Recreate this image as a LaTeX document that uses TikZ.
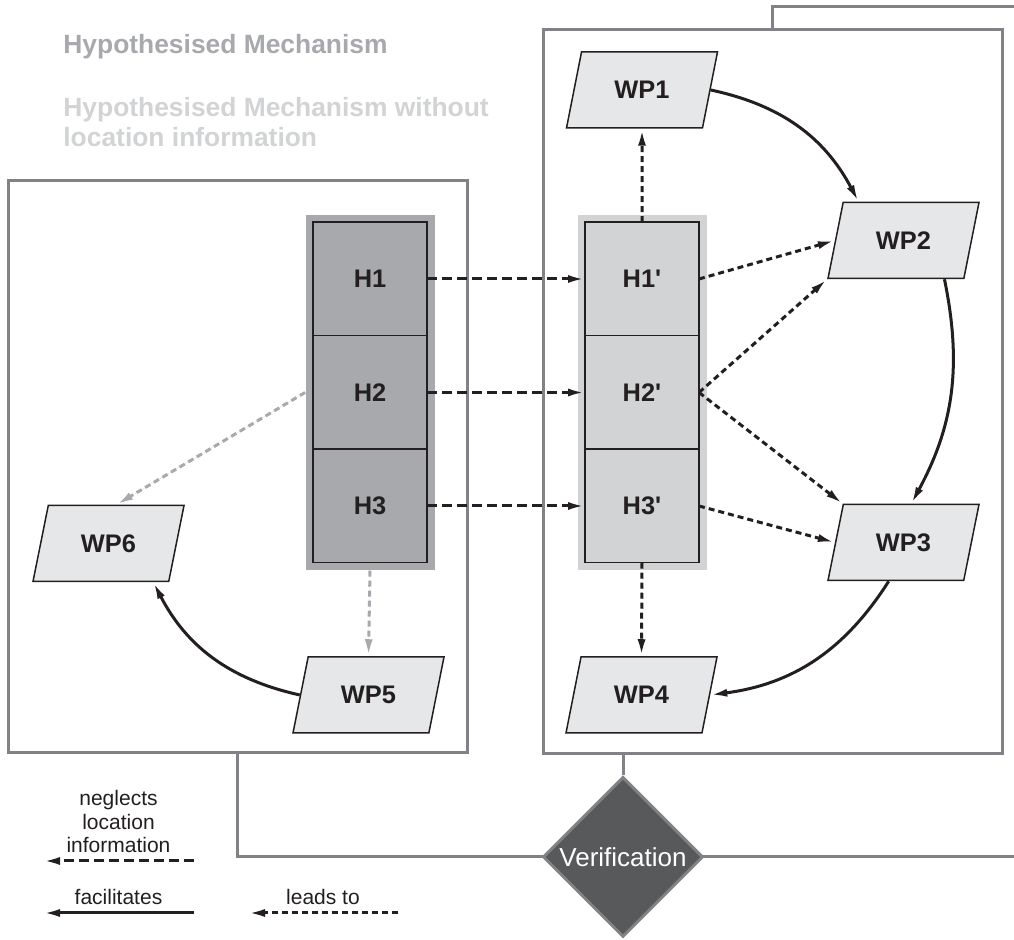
\documentclass[tikz,border=0pt]{standalone}
\usepackage{fontspec}
\setmainfont{Liberation Sans}[Ligatures=TeXOff]
\usetikzlibrary{arrows.meta, positioning, shapes.geometric, fit, backgrounds}

\definecolor{hdark}{HTML}{A7A9AC}
\definecolor{hlight}{HTML}{D1D3D4}
\definecolor{wpfill}{HTML}{E6E7E8}
\definecolor{framegray}{HTML}{808285}
\definecolor{ink}{HTML}{231F20}
\definecolor{verfill}{HTML}{58595B}

\newcommand\lab{\fontsize{12.7}{15}\selectfont\bfseries}
\newcommand\legendfont{\fontsize{10.5}{11.75}\selectfont}

\begin{document}
\begin{tikzpicture}[
  x=0.5pt, y=-0.5pt,
  hbox/.style={draw=ink, line width=0.75pt, fill=hdark, text=ink,
               minimum width=57pt, minimum height=56.75pt, outer sep=0pt, font=\lab},
  hpbox/.style={hbox, fill=hlight},
  wp/.style={trapezium, trapezium left angle=64, trapezium right angle=116,
             trapezium stretches body, draw=ink, line width=0.75pt, fill=wpfill,
             text=ink, minimum width=75.5pt, minimum height=38pt, font=\lab},
  frame/.style={draw=framegray, line width=1.5pt},
  verif/.style={diamond, draw=framegray, line width=1.5pt, fill=verfill,
                text=white, minimum width=80pt, minimum height=80pt, inner sep=0pt,
                font=\fontsize{13}{15}\selectfont},
  title/.style={inner sep=0pt, anchor=west, align=left,
                font=\fontsize{13.2}{15}\selectfont\bfseries},
  tip/.style={-{Latex[length=8.5pt, width=4pt]}},
  neglectarr/.style={tip, draw=ink, line width=1.5pt, dash pattern=on 5pt off 2.5pt},
  leadarr/.style={tip, draw=ink, line width=1.5pt, dash pattern=on 3pt off 2pt},
  leadgrayarr/.style={leadarr, draw=hdark, fill=hdark},
  facilarr/.style={tip, draw=ink, line width=1.5pt},
  legendtext/.style={text=ink, align=center, font=\legendfont}]
  \useasboundingbox (0,0) rectangle (1014,940);

  % frames and verification
  \node[frame, minimum width=229.5pt, minimum height=286pt] (leftbox) at (237.5,467) {};
  \node[frame, minimum width=229.5pt, minimum height=362pt] (rightbox) at (772.5,392) {};
  \coordinate (edgeT) at (1014,7);
  \coordinate (edgeB) at (1014,857);
  \draw[frame] (rightbox.north) |- (edgeT);
  \draw[frame] (leftbox.south) |- (edgeB);
  \node[verif] (verif) at (623,857) {Verification};
  \draw[frame] (verif.north |- rightbox.south) -- (verif.north);

  % hypotheses
  \node[hbox] (h1) at (370,279) {H1};
  \node[hbox, below=0pt of h1] (h2) {H2};
  \node[hbox, below=0pt of h2] (h3) {H3};
  \node[hpbox] (h1p) at (642,279) {H1'};
  \node[hpbox, below=0pt of h1p] (h2p) {H2'};
  \node[hpbox, below=0pt of h2p] (h3p) {H3'};
  \begin{scope}[on background layer]
    \node[fit=(h1)(h3), inner sep=3.75pt, fill=hdark] (hcol) {};
    \node[fit=(h1p)(h3p), inner sep=3.75pt, fill=hlight] (hpcol) {};
  \end{scope}

  % work packages
  \node[wp] (wp1) at (642,90) {WP1};
  \node[wp] (wp2) at (903.5,240.5) {WP2};
  \node[wp] (wp3) at (903.5,542.5) {WP3};
  \node[wp] (wp4) at (641.5,695) {WP4};
  \node[wp] (wp5) at (368.5,695) {WP5};
  \node[wp] (wp6) at (108.5,543.5) {WP6};

  % connectors
  \draw[neglectarr] (h1) -- (h1p);
  \draw[neglectarr] (h2) -- (h2p);
  \draw[neglectarr] (h3) -- (h3p);
  \draw[leadarr] (h1p.north) -- (wp1.south);
  \draw[leadarr] (h1p.east) -- (wp2.left side);
  \draw[leadarr] (h2p.east) -- (wp2.bottom left corner);
  \draw[leadarr] (h2p.east) -- (wp3.top left corner);
  \draw[leadarr] (h3p.east) -- (wp3.left side);
  \draw[leadarr] (h3p.south) -- (wp4.north);
  \draw[leadgrayarr] (hcol.west |- h2) -- (wp6.top side);
  \draw[leadgrayarr] (hcol.south -| h3) -- (wp5.north);
  \draw[facilarr] (wp1.right side) to[bend left=25] ([xshift=8pt]wp2.top left corner);
  \draw[facilarr] ([xshift=-10pt]wp2.bottom right corner) to[bend left=20] (wp3.top side);
  \draw[facilarr] ([xshift=-3.5pt]wp3.bottom side) to[bend left=25] (wp4.right side);
  \draw[facilarr] (wp5.left side) to[bend left=25] ([xshift=-8pt]wp6.bottom right corner);

  % legend
  \node[title, text=hdark] (tmech) at (63,47) {Hypothesised Mechanism};
  \node[title, text=hlight] (tnoloc) at (63,122) {Hypothesised Mechanism without\\location information};
  \coordinate (negA) at (194,861);
  \coordinate (negB) at (43,861);
  \coordinate (facA) at (194,913);
  \coordinate (facB) at (43,913);
  \coordinate (leadA) at (398,913);
  \coordinate (leadB) at (248,913);
  \draw[neglectarr] (negA) -- node[above, legendtext] {neglects\\location\\information} (negB);
  \draw[facilarr] (facA) -- node[above, legendtext] {facilitates} (facB);
  \draw[leadarr] (leadA) -- node[above, legendtext] {leads to} (leadB);
\end{tikzpicture}
\end{document}
